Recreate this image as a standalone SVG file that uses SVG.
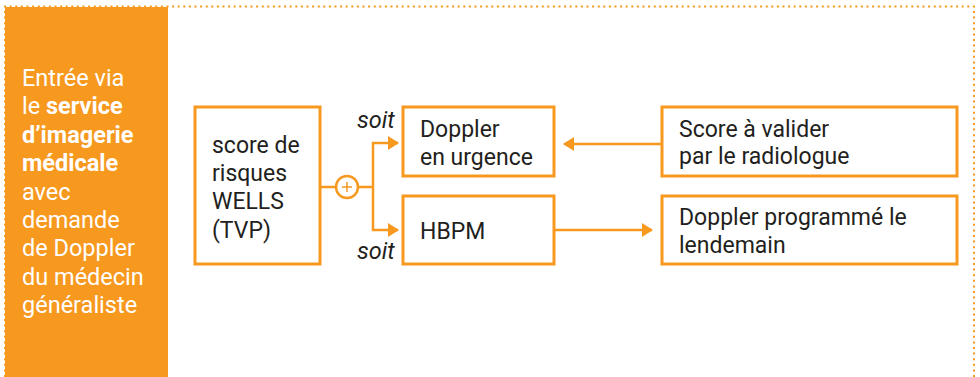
<svg xmlns="http://www.w3.org/2000/svg" width="980" height="377" viewBox="0 0 980 377">
<defs>
<style>
.box{fill:#fff;stroke:#F7981F;stroke-width:3}
.t{font-family:Roboto,"Open Sans",sans-serif;font-size:23px;fill:#231f20}
.w{font-family:Roboto,"Open Sans",sans-serif;font-size:23.5px;fill:#fff}
.b{font-weight:bold}
.c{fill:none;stroke:#F7981F;stroke-width:2.5}
.i{font-family:Roboto,"Open Sans",sans-serif;font-size:23.5px;font-style:italic;fill:#231f20}
</style>
<marker id="ah" viewBox="0 0 11 14" refX="10" refY="7" markerWidth="11" markerHeight="14" markerUnits="userSpaceOnUse" orient="auto">
<path d="M0,0 L11,7 L0,14 Z" fill="#F7981F"/>
</marker>
</defs>
<rect width="980" height="377" fill="#fff"/>
<g id="frame">
<path d="M5,377 L5,6.5 L974,6.5 L974,377" fill="none" stroke="#F7981F" stroke-width="2" stroke-dasharray="2 3.6"/>
</g>
<g id="entry">
<rect x="5" y="7" width="163" height="370" fill="#F7981F"/>
<text class="w" x="22">
<tspan x="22" y="86">Entrée via</tspan>
<tspan x="22" y="114">le <tspan class="b">service</tspan></tspan>
<tspan x="22" y="143" class="b">d’imagerie</tspan>
<tspan x="22" y="171" class="b">médicale</tspan>
<tspan x="22" y="200">avec</tspan>
<tspan x="22" y="228">demande</tspan>
<tspan x="22" y="256">de Doppler</tspan>
<tspan x="22" y="285">du médecin</tspan>
<tspan x="22" y="313">généraliste</tspan>
</text>
</g>
<g id="wells">
<rect class="box" x="195" y="107" width="125" height="157"/>
<text class="t"><tspan x="212" y="153">score de</tspan><tspan x="212" y="181">risques</tspan><tspan x="212" y="209">WELLS</tspan><tspan x="212" y="238">(TVP)</tspan></text>
</g>
<g id="doppler-urgence">
<rect class="box" x="403" y="107" width="151" height="69"/>
<text class="t"><tspan x="420" y="137">Doppler</tspan><tspan x="420" y="165">en urgence</tspan></text>
</g>
<g id="hbpm">
<rect class="box" x="403" y="196" width="151" height="68"/>
<text class="t" x="420" y="239">HBPM</text>
</g>
<g id="score">
<rect class="box" x="662" y="107" width="295" height="69"/>
<text class="t"><tspan x="679" y="137">Score à valider</tspan><tspan x="679" y="164">par le radiologue</tspan></text>
</g>
<g id="doppler-prog">
<rect class="box" x="662" y="196" width="295" height="68"/>
<text class="t"><tspan x="679" y="225">Doppler programmé le</tspan><tspan x="679" y="253">lendemain</tspan></text>
</g>
<g id="connectors">
<line class="c" x1="321" y1="187" x2="335" y2="187"/>
<circle cx="347" cy="187" r="11" fill="#fff" stroke="#F7981F" stroke-width="2.5"/>
<path d="M342,187 H352 M347,182 V192" stroke="#F7981F" stroke-width="1.5" fill="none"/>
<path class="c" d="M358,187 H373"/>
<path class="c" d="M373,187 V143 H398" marker-end="url(#ah)"/>
<path class="c" d="M373,187 V230 H398" marker-end="url(#ah)"/>
<path class="c" d="M661,144 H564" marker-end="url(#ah)"/>
<path class="c" d="M555,230 H652" marker-end="url(#ah)"/>
<text class="i" x="357" y="128">soit</text>
<text class="i" x="357" y="259">soit</text>
</g>
</svg>
